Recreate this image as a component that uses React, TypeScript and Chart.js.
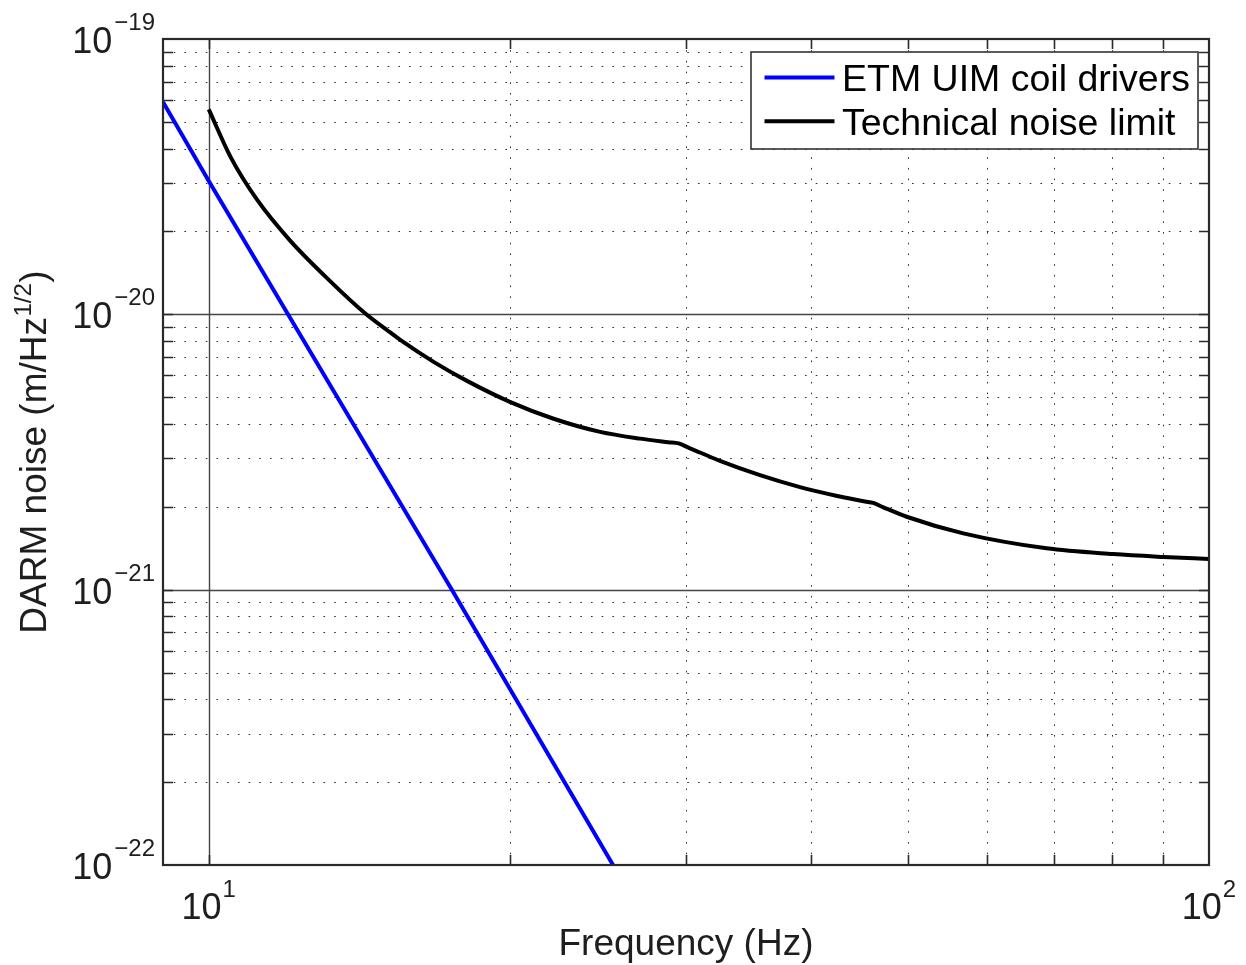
import React, { useEffect, useRef } from 'react';
import { Chart, registerables } from 'chart.js';

Chart.register(...registerables);

// ---- data ----
const uimFreq = [9, 10, 12, 17.5, 25.36];
const uimNoise = [5.9e-20, 3.05e-20, 1.0e-20, 1.0e-21, 1.0e-22];

const techFreq = [10, 10.51, 11.18, 12.06, 13.23, 14.34, 15.08, 15.54, 16.78, 18.12, 20, 22.12, 24.62, 27.0, 28.8, 29.5, 30.2, 31.03, 32.44, 35.57, 39.0, 42.5, 45.3, 46.17, 47.2, 49.86, 56.8, 68.8, 80.2, 90, 100];
const techNoise = [5.553e-20, 3.74e-20, 2.603e-20, 1.853e-20, 1.318e-20, 1.0067e-20, 8.755e-21, 8.077e-21, 6.721e-21, 5.733e-21, 4.81e-21, 4.176e-21, 3.742e-21, 3.536e-21, 3.434e-21, 3.4e-21, 3.274e-21, 3.143e-21, 2.936e-21, 2.606e-21, 2.358e-21, 2.19e-21, 2.091e-21, 2.066e-21, 1.995e-21, 1.84e-21, 1.601e-21, 1.413e-21, 1.347e-21, 1.315e-21, 1.292e-21];

const seriesLabels = ['ETM UIM coil drivers', 'Technical noise limit'];
const seriesColors = ['#0000ff', '#000000'];

const xMin = 9;
const xMax = 100;
const yMin = 1e-22;
const yMax = 1e-19;

const xTickExponents = [1, 2];
const yTickExponents = [-22, -21, -20, -19];
const xMinorTicks = [20, 30, 40, 50, 60, 70, 80, 90];
const yMinorMultipliers = [2, 3, 4, 5, 6, 7, 8, 9];
const yMinorDecades = [-22, -21, -20];

const xTitle = 'Frequency (Hz)';
const yTitleMain = 'DARM noise (m/Hz';
const yTitleSup = '1/2';
const yTitleEnd = ')';

const FONT = '"Liberation Sans", Arial, Helvetica, sans-serif';
const TEXT = '#1e1e1e';
const AXIS = '#2a2a2a';

function fmtExp(e: number): string {
  return e < 0 ? '\u2212' + String(-e) : String(e);
}

export default function App() {
  const ref = useRef<HTMLCanvasElement>(null);

  useEffect(() => {
    const canvas = ref.current;
    if (!canvas) return;

    const yMinorValues: number[] = [];
    yMinorDecades.forEach((d) => yMinorMultipliers.forEach((m) => yMinorValues.push(m * Math.pow(10, d))));

    const matlabAxes = {
      id: 'matlabAxes',
      beforeDatasetsDraw(chart: any) {
        const { ctx, chartArea: a, scales } = chart;
        const xs = scales.x;
        const ys = scales.y;
        ctx.save();
        // minor dotted grid
        ctx.strokeStyle = '#2e2e2e';
        ctx.lineWidth = 1;
        ctx.setLineDash([1.6, 9.1]);
        xMinorTicks.forEach((v) => {
          const px = Math.round(xs.getPixelForValue(v)) + 0.5;
          ctx.beginPath();
          ctx.moveTo(px, a.bottom);
          ctx.lineTo(px, a.top);
          ctx.stroke();
        });
        yMinorValues.forEach((v) => {
          const py = Math.round(ys.getPixelForValue(v)) + 0.5;
          ctx.beginPath();
          ctx.moveTo(a.left, py);
          ctx.lineTo(a.right, py);
          ctx.stroke();
        });
        // major solid grid
        ctx.setLineDash([]);
        ctx.strokeStyle = '#444';
        ctx.lineWidth = 1.4;
        xTickExponents.forEach((e) => {
          const v = Math.pow(10, e);
          if (v <= xMin || v >= xMax) return;
          const px = Math.round(xs.getPixelForValue(v)) + 0.5;
          ctx.beginPath();
          ctx.moveTo(px, a.bottom);
          ctx.lineTo(px, a.top);
          ctx.stroke();
        });
        yTickExponents.forEach((e) => {
          const v = Math.pow(10, e);
          if (v <= yMin || v >= yMax) return;
          const py = Math.round(ys.getPixelForValue(v)) + 0.5;
          ctx.beginPath();
          ctx.moveTo(a.left, py);
          ctx.lineTo(a.right, py);
          ctx.stroke();
        });
        ctx.restore();
      },
      afterDatasetsDraw(chart: any) {
        const { ctx, chartArea: a, scales } = chart;
        const xs = scales.x;
        const ys = scales.y;
        ctx.save();
        // tick marks (inward, all sides)
        ctx.strokeStyle = AXIS;
        ctx.lineWidth = 1.6;
        const tl = 10;
        const xTickVals = [...xTickExponents.map((e) => Math.pow(10, e)), ...xMinorTicks].filter((v) => v > xMin && v < xMax);
        xTickVals.forEach((v) => {
          const px = Math.round(xs.getPixelForValue(v)) + 0.5;
          ctx.beginPath();
          ctx.moveTo(px, a.bottom);
          ctx.lineTo(px, a.bottom - tl);
          ctx.moveTo(px, a.top);
          ctx.lineTo(px, a.top + tl);
          ctx.stroke();
        });
        const yTickVals = [...yTickExponents.map((e) => Math.pow(10, e)), ...yMinorValues].filter((v) => v > yMin && v < yMax);
        yTickVals.forEach((v) => {
          const py = Math.round(ys.getPixelForValue(v)) + 0.5;
          ctx.beginPath();
          ctx.moveTo(a.left, py);
          ctx.lineTo(a.left + tl, py);
          ctx.moveTo(a.right, py);
          ctx.lineTo(a.right - tl, py);
          ctx.stroke();
        });
        // axis box
        ctx.lineWidth = 2.2;
        ctx.strokeRect(a.left, a.top, a.right - a.left, a.bottom - a.top);

        // tick labels
        const baseFont = `36px ${FONT}`;
        const supFont = `24px ${FONT}`;
        ctx.fillStyle = TEXT;
        ctx.textBaseline = 'alphabetic';
        ctx.textAlign = 'left';
        xTickExponents.forEach((e) => {
          const px = xs.getPixelForValue(Math.pow(10, e));
          ctx.font = baseFont;
          const wb = ctx.measureText('10').width;
          ctx.font = supFont;
          const sup = fmtExp(e);
          const wsup = ctx.measureText(sup).width;
          const total = wb + 1 + wsup;
          const x0 = px - total / 2;
          ctx.font = baseFont;
          ctx.fillText('10', x0, a.bottom + 54);
          ctx.font = supFont;
          ctx.fillText(sup, x0 + wb + 1, a.bottom + 31.5);
        });
        yTickExponents.forEach((e) => {
          const py = ys.getPixelForValue(Math.pow(10, e));
          ctx.font = baseFont;
          const wb = ctx.measureText('10').width;
          ctx.font = supFont;
          const sup = fmtExp(e);
          const wsup = ctx.measureText(sup).width;
          const right = a.left - 8;
          const x0 = right - wsup - 2 - wb;
          ctx.font = baseFont;
          ctx.fillText('10', x0, py + 14);
          ctx.font = supFont;
          ctx.fillText(sup, x0 + wb + 2, py - 9);
        });

        // x title
        ctx.font = `37px ${FONT}`;
        ctx.textAlign = 'center';
        ctx.fillText(xTitle, (a.left + a.right) / 2, a.bottom + 90);

        // y title (rotated)
        ctx.save();
        ctx.translate(46, (a.top + a.bottom) / 2);
        ctx.rotate(-Math.PI / 2);
        ctx.textAlign = 'left';
        ctx.font = `37px ${FONT}`;
        const w1 = ctx.measureText(yTitleMain).width;
        const w3 = ctx.measureText(yTitleEnd).width;
        ctx.font = `24px ${FONT}`;
        const w2 = ctx.measureText(yTitleSup).width;
        const tot = w1 + w2 + w3 + 1;
        let u = -tot / 2;
        ctx.font = `37px ${FONT}`;
        ctx.fillText(yTitleMain, u, 0);
        u += w1 + 0.5;
        ctx.font = `24px ${FONT}`;
        ctx.fillText(yTitleSup, u, -15);
        u += w2 + 0.5;
        ctx.font = `37px ${FONT}`;
        ctx.fillText(yTitleEnd, u, 0);
        ctx.restore();

        // legend
        const bw = 447;
        const bh = 97;
        const bx = a.right - 11 - bw;
        const by = a.top + 13;
        ctx.fillStyle = '#ffffff';
        ctx.fillRect(bx, by, bw, bh);
        ctx.strokeStyle = '#333';
        ctx.lineWidth = 1.6;
        ctx.strokeRect(bx, by, bw, bh);
        const rows = [25.6, 69.3];
        chart.data.datasets.forEach((ds: any, i: number) => {
          const ly = by + rows[i];
          ctx.strokeStyle = ds.borderColor;
          ctx.lineWidth = 4;
          ctx.beginPath();
          ctx.moveTo(bx + 13.5, ly);
          ctx.lineTo(bx + 83.5, ly);
          ctx.stroke();
          ctx.fillStyle = '#000';
          ctx.font = `37.5px ${FONT}`;
          ctx.textAlign = 'left';
          ctx.fillText(ds.label, bx + 91, ly + 13.6);
        });
        ctx.restore();
      },
    };

    const chart = new Chart(canvas, {
      type: 'line',
      data: {
        datasets: [
          {
            label: seriesLabels[0],
            data: uimFreq.map((f, i) => ({ x: f, y: uimNoise[i] })),
            borderColor: seriesColors[0],
            borderWidth: 4,
            pointRadius: 0,
            tension: 0,
            fill: false,
          },
          {
            label: seriesLabels[1],
            data: techFreq.map((f, i) => ({ x: f, y: techNoise[i] })),
            borderColor: seriesColors[1],
            borderWidth: 4,
            pointRadius: 0,
            cubicInterpolationMode: 'monotone',
            fill: false,
            borderJoinStyle: 'round',
          },
        ],
      },
      options: {
        responsive: false,
        devicePixelRatio: 1,
        animation: false,
        events: [],
        layout: { padding: { left: 163, top: 39, right: 37, bottom: 100 } },
        scales: {
          x: { type: 'logarithmic', min: xMin, max: xMax, display: false },
          y: { type: 'logarithmic', min: yMin, max: yMax, display: false },
        },
        plugins: {
          legend: { display: false },
          tooltip: { enabled: false },
          title: { display: false },
        },
      },
      plugins: [matlabAxes],
    } as any);

    return () => chart.destroy();
  }, []);

  return (
    <div style={{ position: 'absolute', left: 0, top: 0, width: 1246, height: 965, background: '#fff' }}>
      <canvas ref={ref} width={1246} height={965} style={{ display: 'block', width: 1246, height: 965 }} />
    </div>
  );
}
